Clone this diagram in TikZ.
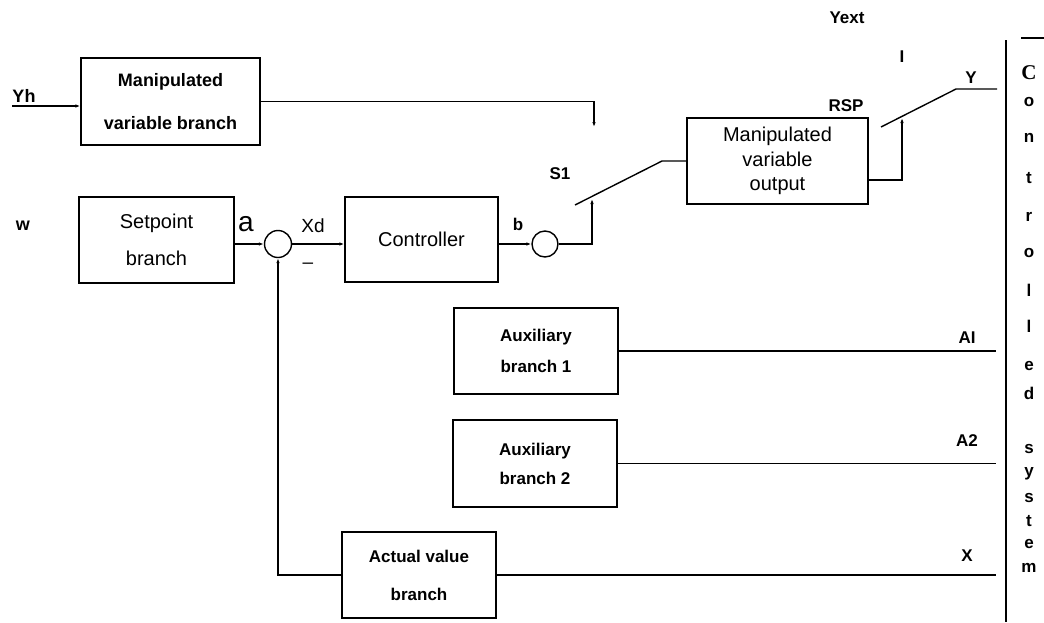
\documentclass[tikz,border=0pt]{standalone}
\usepackage{fontspec}
\setmainfont{Liberation Sans}
\newfontfamily\serifC{Liberation Serif}
\usetikzlibrary{arrows.meta}

\begin{document}
\begin{tikzpicture}[x=1pt, y=-1pt, >={Latex[length=5pt,width=3.5pt]}, line width=1.4pt,
    blk/.style={draw, inner sep=0pt, align=center},
    sj/.style={draw, circle, minimum size=27pt, inner sep=0pt},
    lbl/.style={font=\fontsize{17}{20}\selectfont\bfseries, inner sep=0pt},
    rlbl/.style={font=\fontsize{19}{22}\selectfont, inner sep=0pt}]
  \useasboundingbox (0,0) rectangle (1044,622);
  % ---------------------------------------------------------------- blocks
  \node[blk, minimum width=179pt, minimum height=87pt, font=\fontsize{18}{43}\selectfont\bfseries]
    (mvb) at (170.5,101.5) {Manipulated\\variable branch};
  \node[blk, minimum width=155pt, minimum height=86pt, font=\fontsize{20}{37}\selectfont]
    (sp) at (156.5,240) {Setpoint\\branch};
  \node[sj] (sum) at (278,244) {};
  \node[blk, minimum width=153pt, minimum height=85pt, font=\fontsize{20}{24}\selectfont]
    (ctrl) at (421.5,239.5) {Controller};
  \node[sj, minimum size=26pt] (bsum) at (545,244) {};
  \node[blk, minimum width=181pt, minimum height=86pt, font=\fontsize{20}{24.5}\selectfont]
    (mvo) at (777.5,161) {Manipulated\\variable\\output};
  \node[blk, minimum width=164pt, minimum height=86pt, font=\fontsize{17}{31}\selectfont\bfseries]
    (aux1) at (536,351) {Auxiliary\\branch 1};
  \node[blk, minimum width=164pt, minimum height=87pt, font=\fontsize{17}{29}\selectfont\bfseries]
    (aux2) at (535,463.5) {Auxiliary\\branch 2};
  \node[blk, minimum width=154pt, minimum height=86pt, font=\fontsize{17}{38}\selectfont\bfseries]
    (act) at (419,575) {Actual value\\branch};
  % ---------------------------------------------------------------- switches and ends
  \coordinate (yhin) at (12,106);
  \coordinate (s1top) at (594,127);
  \coordinate (s1c) at (592,199);
  \coordinate (s1a) at (575,205);
  \coordinate (s1b) at (662,161);
  \coordinate (rspc) at (902,118);
  \coordinate (rspa) at (881,127);
  \coordinate (rspb) at (956,89);
  \coordinate (yend) at (997,89);
  \coordinate (edge) at (996,0);
  % ---------------------------------------------------------------- connectors
  \draw[->] (yhin) -- (yhin -| mvb.west);
  \draw[->] (mvb.east) -| (s1top);
  \draw[->] (sp.east |- sum.west) -- (sum.west);
  \draw[->] (sum.east) -- (sum.east -| ctrl.west);
  \draw[->] (ctrl.east |- bsum.west) -- (bsum.west);
  \draw[->] (bsum.east) -| (s1c);
  \draw (s1a) -- (s1b) -- (mvo.west);
  \draw[->] ([yshift=-19pt]mvo.east) -| (rspc);
  \draw (rspa) -- (rspb) -- (yend);
  \draw (aux1.east) -- (aux1.east -| edge);
  \draw (aux2.east) -- (aux2.east -| edge);
  \draw (act.east) -- (act.east -| edge);
  \draw[->] (act.west) -- (sum.south |- act.west) -- (sum.south);
  % system border
  \draw (1006,40) -- (1006,622);
  \draw (1021,38) -- (1044,38);
  % ---------------------------------------------------------------- labels
  \node[lbl, font=\fontsize{18}{20}\selectfont\bfseries] (yh) at (24,96) {Yh};
  \node[lbl, font=\fontsize{18}{20}\selectfont\bfseries] (w) at (23,226) {w};
  \node[rlbl, font=\fontsize{28}{30}\selectfont] (a) at (246,224) {a};
  \node[rlbl] (xd) at (313,226) {Xd};
  \node[rlbl] (minus) at (308,266) {\textendash};
  \node[lbl] (b) at (518,224) {b};
  \node[lbl] (s1) at (560,174) {S1};
  \node[lbl] (rsp) at (846,106) {RSP};
  \node[lbl] (yext) at (847,18) {Yext};
  \node[lbl] (i) at (902,57) {I};
  \node[lbl] (y) at (971,78) {Y};
  \node[lbl] (ai) at (967,338) {AI};
  \node[lbl] (a2) at (967,441) {A2};
  \node[lbl] (x) at (967,556) {X};
  % controlled system
  \node[inner sep=0pt, font=\fontsize{21}{22}\selectfont\serifC\bfseries] (cs0) at (1029,73) {C};
  \foreach \ch/\yy [count=\i] in {o/102,n/138,t/178,r/217,o/253,l/290,l/326,e/366,d/393,s/449,y/474,s/498,t/521,e/544,m/568}
    \node[lbl, font=\fontsize{17}{18}\selectfont\bfseries] (cs\i) at (1029,\yy) {\ch};
\end{tikzpicture}
\end{document}
